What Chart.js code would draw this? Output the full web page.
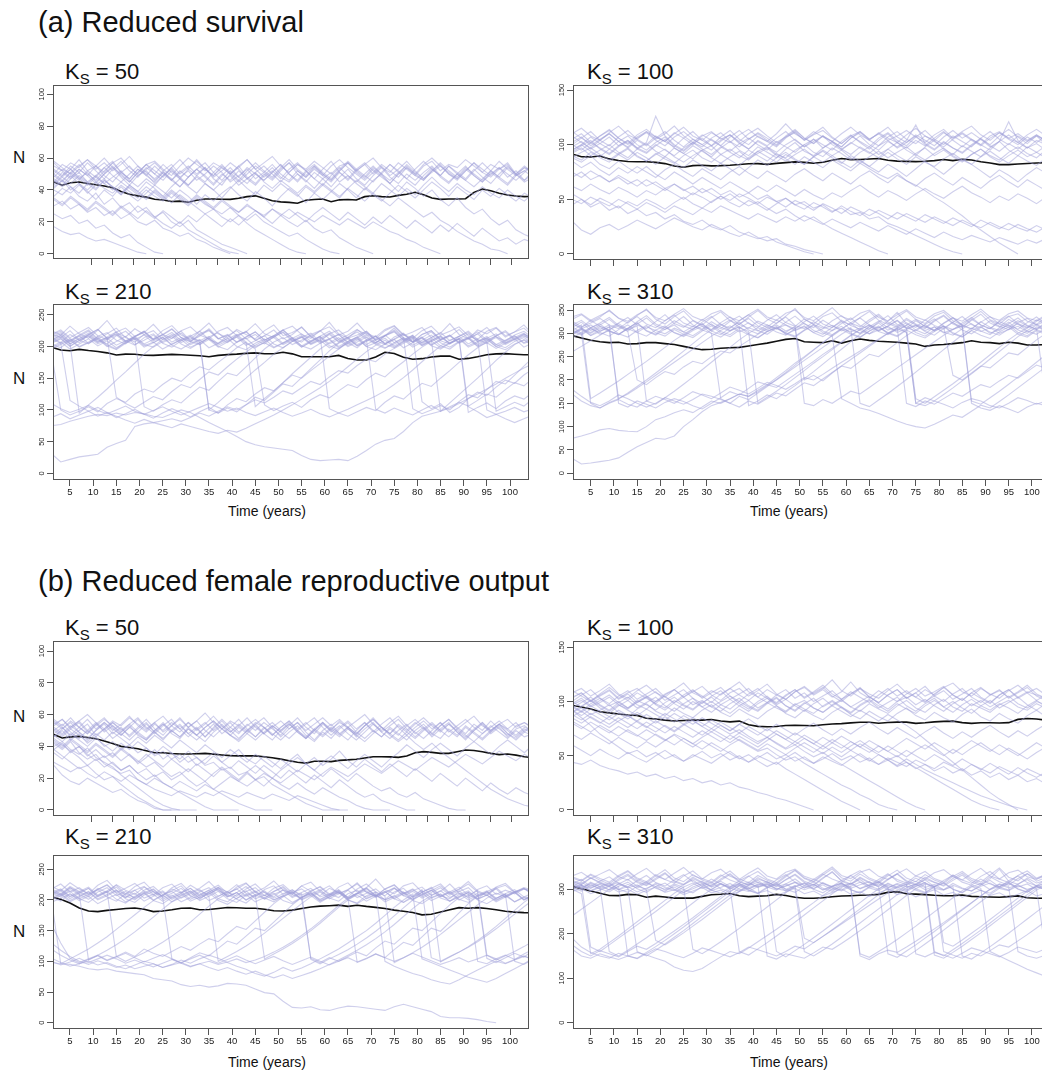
<!DOCTYPE html>
<html>
<head>
<meta charset="utf-8">
<script src="https://cdn.jsdelivr.net/npm/chart.js@4.4.0/dist/chart.umd.min.js"></script>
<style>
  body { margin: 0; width: 1042px; height: 1071px; overflow: hidden; background: #fff;
         position: relative; font-family: "Liberation Sans", Arial, sans-serif; color: #111; }
  canvas { position: absolute; }
  .lbl { position: absolute; white-space: nowrap; line-height: 1; }
  .sec { font-size: 29px; }
  .ks { font-size: 22px; }
  .ks sub { font-size: 15px; vertical-align: -5px; line-height: 0; }
  .n { font-size: 17px; }
  .tx { font-size: 14px; transform: translateX(-50%); }
</style>
</head>
<body>

<div class="lbl sec" style="left:38px;top:8px">(a) Reduced survival</div>
<div class="lbl sec" style="left:38px;top:567px">(b) Reduced female reproductive output</div>

<div class="lbl ks" style="left:65px;top:61px">K<sub>S</sub> = 50</div>
<div class="lbl ks" style="left:587px;top:61px">K<sub>S</sub> = 100</div>
<div class="lbl ks" style="left:65px;top:281px">K<sub>S</sub> = 210</div>
<div class="lbl ks" style="left:587px;top:281px">K<sub>S</sub> = 310</div>
<div class="lbl ks" style="left:65px;top:617px">K<sub>S</sub> = 50</div>
<div class="lbl ks" style="left:587px;top:617px">K<sub>S</sub> = 100</div>
<div class="lbl ks" style="left:65px;top:826px">K<sub>S</sub> = 210</div>
<div class="lbl ks" style="left:587px;top:826px">K<sub>S</sub> = 310</div>

<div class="lbl n" style="left:13px;top:149px">N</div>
<div class="lbl n" style="left:13px;top:370px">N</div>
<div class="lbl n" style="left:13px;top:708px">N</div>
<div class="lbl n" style="left:13px;top:923px">N</div>

<div class="lbl tx" style="left:267px;top:504px">Time (years)</div>
<div class="lbl tx" style="left:789px;top:504px">Time (years)</div>
<div class="lbl tx" style="left:267px;top:1055px">Time (years)</div>
<div class="lbl tx" style="left:789px;top:1055px">Time (years)</div>

<script>
// simulation years (every second year); the K=50 runs go on a little longer
const yearsLong = [1,3,5,7,9,11,13,15,17,19,21,23,25,27,29,31,33,35,37,39,41,43,45,47,49,51,53,55,57,59,
  61,63,65,67,69,71,73,75,77,79,81,83,85,87,89,91,93,95,97,99,101,103,105,107,109,111,113,115];
const years = [1,3,5,7,9,11,13,15,17,19,21,23,25,27,29,31,33,35,37,39,41,43,45,47,49,51,53,55,57,59,
  61,63,65,67,69,71,73,75,77,79,81,83,85,87,89,91,93,95,97,99,101,103,105];

const ticksLong = [10,15,20,25,30,35,40,45,50,55,60,65,70,75,80,85,90,95,100,105,110];
const ticksShort = [5,10,15,20,25,30,35,40,45,50,55,60,65,70,75,80,85,90,95,100];
const yTicks50 = [0,20,40,60,80,100];
const yTicks100 = [0,50,100,150];
const yTicks210 = [0,50,100,150,200,250];
const yTicks310a = [0,50,100,150,200,250,300,350];
const yTicks310b = [0,100,200,300];

// ---- (a) reduced survival ----
const survival50Mean = [45,43,44.5,45,44,43.3,42.5,41.4,39,37.3,36.3,35.5,34.2,33.7,32.8,33,32.3,33.5,34.3,34.3,
  34.2,34.1,34.8,35.8,36.3,34.8,33.2,32.5,32.2,31.7,33.5,34,34.3,32.6,33.8,34,33.7,35.8,36.4,35.8,
  35.6,36.6,37.3,38.5,37,35,34.1,34.3,34.3,34.5,38.5,40.6,39.5,37.9,36.8,36.2,35.8,36];
const survival50Runs = [
  [55,52,57,54,59,55,51,57,60,54,50,56,58,53,49,55,60,56,52,57,54,50,55,59,53,57,61,55,51,56,53,58,54,50,55,57,52,56,60,54,51,57,53,49,55,58,52,56,54,59,55,51,56,53,57,50,54,52],
  [48,53,50,46,52,55,49,45,51,47,53,50,44,49,54,48,52,46,50,55,51,45,49,53,47,51,56,50,46,52,48,54,49,45,51,47,53,57,52,48,44,50,54,49,46,52,56,50,47,53,49,45,50,54,48,52,46,50],
  [44,49,53,47,51,45,50,54,48,43,49,52,46,51,47,42,48,53,49,44,50,46,52,47,43,49,54,48,45,50,46,41,47,51,45,49,44,40,46,50,44,39,45,41,36,40,34,30,35,29,25,28,22,18,21,15,12,10],
  [40,37,42,36,33,38,31,35,29,32,26,29,23,26,20,17,21,15,12,9,6,4,2,0],
  [25,22,24,19,21,16,18,13,10,12,7,4,1,0],
  [17,14,12,13,10,8,9,7,5,3,1,0],
  [42,46,40,44,38,43,47,41,37,42,38,34,39,35,40,36,32,37,33,29,34,30,26,31,27,23,28,24,20,17,21,16,13,15,10,7,4,2,0],
  [36,41,38,43,39,34,40,36,42,37,33,38,43,39,35,40,36,31,37,33,38,42,37,33,39,35,30,36,41,37,32,38,34,39,44,40,35,41,37,33,38,43,39,35,40,45,41,36,42,38,34,40,36,41,37,33,38,35],
  [50,46,51,47,43,48,44,40,45,41,37,42,38,34,39,35,31,36,32,28,25,29,24,21,25,20,17,14,11,13,9,6,3,1,0],
  [58,54,50,55,59,53,57,52,56,61,55,51,47,52,56,50,54,58,53,49,54,50,45,50,55,51,47,53,57,52,48,53,49,55,59,54,50,46,51,56,52,48,54,50,56,60,55,51,47,52,57,53,49,54,50,46,51,55],
  [46,42,47,51,45,49,44,48,52,46,42,47,43,49,53,47,43,48,44,40,45,49,43,47,51,45,41,46,42,38,43,39,44,40,36,41,37,33,38,34,30,35,31,27,23,26,21,18,14,11,8,6,3,2,0],
  [34,30,35,31,27,32,28,24,29,25,30,26,22,27,23,19,24,20,25,21,17,22,18,23,27,23,19,24,28,24,20,25,29,25,21,26,22,18,23,19,24,20,16,21,17,13,18,14,19,15,11,16,12,8,10,6,9,7],
  [30,33,28,31,26,29,24,27,22,25,20,18,21,16,14,11,13,9,7,4,2,0],
  [50,56,53,59,52,48,54,58,51,55,49,53,57,52,46,51,55,50,54,48,52,57,53,47,51,55,50,45,51,56,52,47,53,58,51,46,52,56,50,55,49,53,58,52,47,51,55,50,46,52,57,51,48,53,56,49,52,55],
  [45,51,47,53,49,44,50,55,49,45,51,56,50,46,52,48,43,49,54,47,43,50,55,48,44,50,46,52,57,50,45,51,47,42,48,53,47,43,49,54,48,44,50,46,51,55,49,45,50,46,42,47,52,48,44,50,45,48],
  [47,43,49,44,40,45,41,38,43,39,35,40,36,33,38,34,30,35,31,28,33,29,26,30,27,24,28,25,22,26,23,20,24,21,18,22,19,16,20,17,14,12,9,7,4,2,0],
  [41,46,42,38,44,40,46,42,37,43,39,45,41,36,42,47,42,38,44,40,35,41,46,41,37,43,39,44,40,36,42,38,43,39,35,41,46,42,38,44,40,36,41,37,43,48,43,39,44,40,37,42,38,35,40,36,33,38],
  [35,31,36,32,28,33,29,25,30,26,22,27,23,19,16,20,15,12,9,6,3,1,0],
  [52,48,44,49,45,41,46,42,38,43,39,35,40,36,32,37,33,29,25,28,23,20,24,19,15,12,9,6,3,1,0],
  [53,49,55,51,57,52,47,53,58,52,48,54,50,56,51,47,53,59,53,49,55,51,46,52,57,52,48,54,59,53,49,55,50,46,52,57,52,48,54,50,56,52,47,53,58,53,49,55,50,46,52,57,52,48,54,50,55,51],
  [57,52,48,53,49,55,60,54,50,45,51,56,52,48,54,59,53,49,45,51,56,50,54,59,53,48,52,47,53,57,52,56,51,47,53,58,53,49,45,51,56,51,55,50,46,52,57,52,48,54,50,46,52,58,53,49,54,51],
  [43,48,53,48,44,49,54,49,45,50,55,49,45,51,46,42,48,53,48,43,49,54,48,44,50,46,51,56,50,46,52,47,43,49,54,49,45,50,55,50,46,51,47,43,49,54,48,44,50,55,49,45,51,47,43,49,52,48],
  [49,45,51,56,50,46,52,57,51,47,53,49,55,50,46,52,48,53,57,51,46,52,48,54,50,46,51,56,50,45,51,55,50,46,52,57,51,47,53,49,44,50,56,51,47,53,49,55,51,47,53,48,44,50,55,50,46,52]
];

const survival100Mean = [91.5,89,88.8,89.6,87,85.5,84.6,84.4,84.4,83.8,82.7,80.5,79.3,80.8,81.2,80.6,80.8,81.2,81.8,82.6,
  82.7,82,82.9,83.6,84.3,83.8,83,84,85.8,87.3,86.3,86.4,86.9,87.4,85.8,85,84.7,84.5,84.8,85.4,
  86.5,85.4,86.6,86,84.4,83.2,81.8,81.8,82.3,82.8,83.2,83.5,83.5];
const survival100Runs = [
  [105,110,102,108,113,106,101,109,114,107,103,111,106,100,108,112,105,109,103,110,115,108,102,107,111,104,109,113,106,101,108,112,105,110,104,108,113,107,102,109,114,106,111,105,100,108,112,106,110,104,109,103,107],
  [98,103,96,101,107,99,104,97,102,126,108,100,95,102,98,105,99,94,101,106,100,95,103,98,93,100,105,97,102,96,101,108,100,95,103,98,104,118,101,96,103,97,92,99,105,98,103,121,104,97,101,95,100],
  [92,97,90,95,100,93,88,96,101,94,89,97,92,87,95,99,91,96,90,86,94,98,91,88,95,100,93,89,97,92,86,93,98,91,96,90,85,92,97,90,95,89,84,91,96,90,86,93,98,92,88,95,90],
  [88,84,90,82,78,85,79,74,80,73,68,75,70,64,70,65,60,66,61,56,62,57,63,58,53,59,54,50,56,52,58,63,57,52,58,54,49,55,60,55,51,57,62,56,52,47,53,49,55,51,46,52,48],
  [30,22,18,24,27,22,26,31,27,23,28,33,29,25,22,27,23,19,16,20,15,12,14,9,7,4,2,0],
  [45,50,43,47,40,44,37,41,35,38,32,36,30,27,31,25,22,26,20,17,14,16,11,8,5,2,0],
  [95,100,94,89,96,91,86,93,88,82,89,84,79,86,81,76,83,78,72,79,86,81,88,93,87,82,89,95,90,84,79,86,80,75,82,77,71,78,85,79,73,80,87,82,76,70,77,72,66,73,79,74,70],
  [100,95,102,97,92,99,104,97,93,100,95,90,97,102,96,91,98,93,88,95,90,85,92,87,82,89,84,79,86,81,76,83,78,73,69,74,67,63,58,52,47,41,35,28,22,16,10,5,0],
  [55,50,45,51,47,42,48,44,50,46,41,47,52,46,42,48,53,47,43,49,45,40,46,51,45,41,47,43,38,44,39,35,41,37,32,38,34,30,36,32,28,33,29,25,31,27,23,28,24,21,26,22,20],
  [90,86,93,88,84,91,96,89,85,92,87,83,90,95,88,84,91,86,81,88,94,89,84,91,86,82,89,94,88,83,90,85,80,87,93,87,82,89,84,80,87,92,86,82,89,94,88,83,90,85,81,88,84],
  [70,75,68,72,66,70,64,68,62,66,60,64,58,62,56,60,54,58,52,56,50,54,48,51,45,48,42,45,39,42,36,38,32,34,28,25,21,17,13,9,5,2,0],
  [110,115,108,104,111,117,109,105,112,107,103,110,116,108,104,111,106,102,109,114,107,103,110,119,110,105,112,107,103,110,116,109,104,111,106,102,109,115,108,104,111,106,112,117,109,104,111,106,102,109,114,108,112],
  [62,58,64,59,55,61,57,52,58,54,60,55,50,56,52,47,53,49,55,51,46,52,48,43,49,45,40,46,42,37,43,39,35,40,36,32,37,33,29,34,30,26,31,27,24,29,25,22,27,23,20,25,22],
  [102,107,99,105,110,103,98,106,111,104,99,107,112,105,100,106,111,103,98,105,110,104,99,107,113,106,101,108,103,98,106,111,104,99,107,112,105,101,108,103,98,105,110,104,99,106,111,105,100,107,102,108,104],
  [95,100,107,101,96,103,108,100,95,102,107,99,94,101,106,99,104,109,101,96,103,98,93,100,105,98,103,108,100,95,102,97,92,99,104,97,102,108,100,95,102,97,93,100,106,99,94,101,96,103,108,100,97],
  [85,79,84,77,72,79,74,80,75,70,77,82,76,71,78,73,68,75,80,74,69,76,71,66,73,78,72,67,74,69,64,71,76,70,65,72,67,62,69,74,68,63,70,65,60,67,72,66,61,68,63,58,64],
  [75,70,76,71,66,72,67,62,68,63,58,64,59,54,60,55,50,55,49,44,48,42,37,41,35,30,34,28,23,19,15,11,7,3,0],
  [50,46,52,48,44,50,46,41,47,43,38,44,40,36,42,38,44,40,36,32,37,33,29,34,30,35,31,27,32,28,24,29,25,21,26,22,18,23,19,15,20,16,13,17,14,11,15,12,9,13,10,14,12],
  [88,93,97,91,86,92,97,90,85,91,96,89,84,90,95,88,83,89,94,87,92,97,90,85,91,96,89,84,90,95,88,83,89,94,88,93,98,91,86,92,97,90,85,91,96,89,84,90,95,89,93,88,91],
  [100,106,112,104,99,107,113,105,100,108,103,98,106,112,104,99,107,113,105,100,108,103,98,106,112,104,110,116,107,101,108,103,98,106,111,104,99,107,113,105,100,108,103,98,106,112,105,100,108,103,109,104,106],
  [108,102,97,104,110,103,97,104,99,106,112,104,98,105,100,95,103,109,102,96,104,99,106,112,104,98,105,100,95,103,109,102,96,104,110,102,97,104,99,106,112,104,98,105,100,95,103,109,102,97,104,100,102],
  [93,99,104,96,91,98,103,96,92,99,105,97,92,99,94,89,97,103,95,90,98,93,88,96,102,94,90,97,103,96,91,98,93,88,96,102,95,90,98,104,96,91,99,94,89,97,103,95,90,98,93,99,96],
  [112,106,101,108,114,106,100,107,112,105,110,117,108,102,109,104,99,107,113,105,111,106,100,108,114,106,101,108,103,98,106,112,105,110,116,107,102,109,104,99,107,113,106,111,105,100,108,114,107,101,108,104,107]
];

const survival210Mean = [199,194.5,193.4,195.5,193.6,192.2,190,186.7,188,187.8,186.3,186,186.8,187.5,187,186.2,185.5,183.9,186,187.2,
  188,189.2,190,188.5,188.5,191,188.4,183.9,183.9,183.9,183.9,186,181,178.7,178.7,183.5,191,189,183,179.8,
  180.8,183.5,184.8,185,180,181.2,183.7,187,188.3,188.7,187.8,187,187];
const survival210Runs = [
  [215,222,208,218,226,212,220,229,214,207,219,225,211,217,224,209,216,228,213,206,218,223,210,217,226,212,219,231,215,208,220,226,213,218,224,210,217,229,214,207,219,225,211,216,227,212,220,230,215,209,218,224,213],
  [205,212,200,210,217,206,213,202,209,216,204,211,219,207,214,203,210,100,112,125,138,150,163,175,188,198,208,215,204,211,219,207,214,203,210,217,205,212,220,208,215,203,211,218,206,213,201,209,216,205,212,220,208],
  [210,218,205,95,108,120,133,147,160,174,188,200,211,219,206,214,209,216,204,212,219,207,105,118,130,143,157,170,183,196,206,214,202,210,218,206,213,201,209,217,205,212,98,111,124,137,150,164,178,191,203,211,205],
  [31,18,22,26,28,30,41,47,52,74,78,80,83,86,82,88,95,90,98,105,100,108,116,111,120,130,125,135,145,140,152,162,158,170,180,176,188,197,205,212,201,209,216,205,212,220,208,214,203,210,217,206,213],
  [75,77,82,86,90,93,91,95,92,96,94,90,88,94,100,96,88,80,73,66,58,50,45,42,40,38,36,28,22,20,21,22,20,27,36,46,52,55,66,80,90,94,98,103,110,118,125,133,141,150,158,166,173],
  [190,100,92,98,105,97,110,118,112,125,133,128,140,150,145,158,168,163,175,186,198,207,196,108,99,106,112,104,116,124,119,130,140,135,148,158,152,165,176,188,199,208,215,204,212,96,104,111,102,114,122,117,128],
  [220,214,225,210,218,227,213,220,208,216,224,211,219,228,214,207,218,225,212,219,206,215,223,210,217,226,213,220,208,216,224,211,218,227,214,206,217,223,210,218,113,102,110,96,104,118,128,123,136,147,142,155,165],
  [88,94,86,92,98,90,96,88,94,101,93,87,95,102,96,89,97,104,95,108,118,113,125,135,130,143,155,150,162,173,185,196,206,198,211,101,95,103,97,92,100,107,98,105,112,106,115,125,120,132,143,138,150],
  [200,207,196,204,212,201,209,198,206,214,203,199,208,216,204,197,206,213,202,209,217,205,198,207,214,203,210,199,208,216,204,211,200,207,215,203,197,206,213,202,210,218,206,199,208,215,203,211,200,208,216,205,210],
  [212,205,115,106,98,104,96,90,84,79,85,80,76,72,78,74,70,66,63,68,65,71,78,85,92,100,108,117,126,135,145,156,168,180,192,202,210,199,207,214,203,210,217,205,212,105,97,88,93,86,80,86,92],
  [225,218,232,220,213,226,241,222,215,228,219,212,225,233,218,211,224,237,220,214,227,219,212,225,234,217,222,230,216,224,238,220,213,226,219,212,225,232,217,223,230,214,221,236,219,212,226,220,229,215,223,234,218],
  [208,215,204,212,219,207,214,120,110,103,112,121,116,129,140,135,148,160,155,168,180,191,202,210,217,205,213,201,209,216,102,95,90,97,104,99,112,122,117,130,142,137,150,162,175,187,198,207,214,203,211,218,206],
  [210,217,204,213,221,208,215,223,209,202,214,220,206,213,221,208,203,215,222,208,215,224,210,204,216,222,208,214,221,207,212,219,205,213,222,209,203,215,221,207,214,223,209,204,216,222,208,213,220,206,214,221,209],
  [198,205,212,200,207,215,203,196,208,214,201,207,196,204,211,199,206,214,200,195,207,213,200,206,198,205,212,199,207,215,201,196,208,214,200,206,198,204,211,199,207,214,201,196,207,213,200,206,197,205,212,199,206],
  [206,213,201,209,216,204,211,218,206,213,105,98,108,116,111,124,136,131,145,158,154,168,182,196,207,214,203,210,217,205,212,200,208,215,203,211,218,206,214,102,94,100,107,100,113,124,119,132,145,141,155,169,183],
  [214,206,219,210,204,216,222,210,204,216,223,209,215,203,211,218,206,100,95,103,97,108,120,115,128,141,137,151,165,179,193,205,212,201,209,216,204,211,219,207,214,202,210,217,205,212,220,207,98,105,112,106,118],
  [110,102,96,101,107,99,94,100,106,98,93,99,105,98,92,98,104,110,104,98,103,96,91,97,103,96,90,95,101,94,89,95,101,108,115,122,130,140,151,163,176,189,201,210,216,204,212,100,93,98,104,97,102],
  [219,226,214,222,230,217,211,223,229,216,222,235,219,213,225,231,218,212,224,230,217,223,236,220,214,226,232,219,213,225,231,218,224,237,221,215,227,233,219,213,225,232,218,224,231,217,211,224,230,217,223,229,216],
  [213,220,207,216,224,210,204,217,224,211,218,206,214,222,209,216,224,211,205,217,225,212,219,207,215,223,210,217,205,213,221,208,215,223,211,205,217,224,210,217,206,214,222,209,216,224,211,205,217,223,210,216,212],
  [204,198,210,217,205,212,200,208,216,203,210,218,205,199,209,216,203,211,199,207,215,202,209,217,204,198,208,215,203,210,198,206,214,201,208,216,204,198,208,215,202,209,198,206,213,201,208,216,203,198,208,214,205],
  [218,224,212,206,219,227,213,220,208,215,224,211,218,227,214,208,220,226,212,218,207,215,223,210,217,226,213,207,219,225,212,219,207,215,224,210,217,226,213,207,219,225,211,218,206,214,223,210,217,225,212,219,214],
  [196,203,210,199,206,213,201,195,205,212,199,206,214,202,196,205,211,198,205,213,200,195,205,212,199,206,214,201,196,205,211,198,205,212,200,195,204,211,198,206,213,201,196,205,212,199,206,213,200,195,204,210,201]
];

const survival310Mean = [295,290,285,282,280,281,277,278,280,280,278,276,272,268,265,266,268,269,270,273,
  276,279,283,287,289,282,281,280,284,279,284,288,285,283,282,281,279,277,272,275,
  276,278,280,284,281,280,278,281,279,275,275,276,275];
const survival310Runs = [
  [320,312,328,315,307,322,334,318,310,325,340,321,313,327,316,308,323,335,319,311,326,318,309,324,337,320,312,328,316,308,323,333,318,311,326,345,320,313,329,317,309,324,336,319,312,327,315,308,323,332,318,326,314],
  [305,318,160,172,185,198,212,226,240,255,270,285,298,310,320,305,317,329,312,304,150,163,176,190,205,220,236,250,265,280,295,308,318,306,315,327,311,160,150,164,178,192,207,222,238,254,270,286,300,312,320,307,316],
  [32,20,22,25,28,33,45,57,66,75,73,80,100,115,132,145,152,160,170,165,178,190,184,198,212,226,240,255,268,282,296,308,318,305,316,328,312,305,319,331,315,308,322,334,318,310,325,317,309,323,335,319,312],
  [75,80,86,93,96,92,90,89,100,115,121,130,136,130,142,155,150,160,170,165,175,188,200,214,228,242,256,270,284,298,310,300,314,326,312,305,318,330,314,306,321,333,317,309,324,336,320,313,327,316,308,321,330],
  [300,312,296,308,318,150,142,155,148,140,152,160,154,145,138,150,162,175,168,182,196,190,205,220,236,250,265,280,295,160,150,140,135,128,120,112,105,100,97,105,115,125,120,133,146,140,154,168,183,198,213,228,243],
  [298,310,302,315,306,297,311,322,305,296,309,318,303,295,308,320,304,297,311,323,306,298,312,301,294,307,319,305,297,310,322,306,299,313,302,295,308,317,304,296,311,324,307,299,313,303,296,309,321,305,298,312,304],
  [315,300,150,140,152,160,172,186,200,215,230,246,262,278,294,308,320,306,314,145,155,168,160,174,188,203,218,234,250,266,282,298,310,322,307,315,302,150,162,155,169,183,198,213,229,245,261,277,293,306,318,304,314],
  [170,155,145,140,150,158,148,142,155,165,158,150,162,175,168,160,172,185,178,170,182,195,188,180,192,205,200,212,225,238,250,262,275,288,300,312,150,143,155,148,160,172,165,178,190,184,198,210,204,218,232,225,240],
  [330,340,325,335,350,332,322,338,352,330,320,336,348,328,318,334,346,327,319,335,349,331,321,337,353,330,320,336,344,326,318,334,347,328,319,335,348,330,321,337,345,327,318,333,347,329,320,336,342,326,319,334,340],
  [260,272,284,296,308,317,304,200,190,205,218,212,228,240,235,250,262,258,272,285,298,310,318,305,313,200,210,198,215,230,225,240,255,250,265,280,295,308,318,305,315,210,200,215,230,226,242,258,254,270,286,300,312],
  [290,302,312,298,306,160,170,183,196,210,224,238,252,266,280,294,306,316,303,312,305,318,310,302,315,150,145,158,150,163,176,170,184,198,212,226,240,254,268,282,296,308,316,150,140,135,145,138,130,142,150,145,140],
  [312,324,306,318,330,314,305,320,333,316,308,322,336,318,309,325,313,305,320,332,316,307,322,335,317,310,325,314,306,321,333,317,309,324,338,319,311,327,315,307,322,334,318,310,325,313,306,321,333,317,309,324,315],
  [305,296,310,302,294,308,318,302,294,307,316,301,293,306,315,300,292,305,314,299,291,304,313,298,307,316,301,293,306,315,300,292,305,314,299,308,317,302,294,307,316,301,293,306,315,300,309,318,302,295,308,300,306],
  [322,310,318,305,313,321,308,316,155,148,162,176,191,206,222,238,254,270,286,300,312,304,311,318,306,314,302,310,317,305,312,150,143,157,171,186,201,217,233,249,265,281,297,311,304,312,300,308,315,303,311,160,152],
  [296,308,300,312,304,298,310,302,314,306,299,311,303,315,307,300,160,150,165,158,172,186,201,216,232,248,264,280,296,310,303,311,299,307,315,302,310,318,306,314,301,309,317,155,148,162,176,191,206,222,238,254,270],
  [180,165,152,145,155,168,160,150,142,150,162,155,148,158,170,165,158,150,142,155,148,160,172,166,180,194,188,202,216,230,244,258,272,286,300,310,302,150,145,155,148,140,152,160,155,145,140,150,162,156,148,155,145],
  [335,342,328,338,348,333,326,340,350,334,327,341,353,336,328,342,349,334,327,340,352,335,328,343,350,334,327,341,355,336,329,343,350,334,327,340,351,335,328,342,349,333,326,340,352,335,328,342,348,333,327,340,345],
  [318,328,312,322,334,317,309,325,338,320,312,327,316,308,324,336,319,311,327,340,322,313,329,318,310,325,337,320,312,328,317,309,325,338,321,313,329,318,310,326,337,320,312,328,341,322,314,330,319,311,326,336,320],
  [300,309,295,304,314,299,292,306,317,301,294,308,298,291,305,316,300,293,307,297,290,304,315,299,292,306,317,301,294,308,298,291,305,316,300,293,307,297,290,304,315,299,292,306,296,289,303,314,298,292,306,297,302],
  [326,314,322,332,318,310,324,336,320,312,327,339,322,314,330,318,310,326,337,321,313,328,340,323,315,331,319,311,327,338,322,314,329,341,324,316,332,320,312,328,339,322,314,330,318,310,326,337,321,313,329,319,324],
  [308,298,312,320,305,297,311,323,306,298,313,302,295,309,321,305,297,312,324,307,299,314,303,296,310,322,306,298,313,325,308,300,315,304,297,311,323,307,299,314,303,296,310,321,305,297,312,324,307,300,314,305,309]
];

// ---- (b) reduced female reproductive output ----
const female50Mean = [47.5,45.3,46,46.3,45.6,44.8,43.4,41.8,40,39.3,38.5,37.2,36,36,35.5,35.2,35.2,35.4,35.6,35.1,
  34.6,34.2,34,34,34,33.5,32.8,32,31,30,29.5,30.6,30.6,30.4,31.2,31.5,31.9,32.7,33.5,33.5,
  33.4,33.1,34,36,36.7,36.2,35.6,35.6,36.6,37.7,37.4,36.6,35.6,34.8,35.2,34.5,33.5,33];
const female50Runs = [
  [54,57,52,56,60,55,51,56,53,58,54,50,55,59,53,57,52,56,61,55,51,56,53,49,54,58,52,56,51,55,50,54,58,53,57,52,56,60,54,50,55,59,53,57,52,48,53,57,51,55,59,53,50,54,57,52,55,51],
  [48,52,46,50,54,47,51,45,49,53,47,44,50,54,48,45,51,47,43,49,53,47,44,50,46,52,48,44,49,53,47,43,49,45,51,55,49,45,50,46,52,48,44,50,54,48,45,51,47,53,49,45,50,54,48,44,49,47],
  [40,43,38,35,39,33,30,27,22,18,14,10,6,3,1,0,0,0],
  [28,22,18,16,20,17,14,11,13,9,6,4,1,0,0],
  [46,50,44,48,42,46,40,43,38,41,36,39,34,37,32,35,30,33,28,30,25,27,22,24,19,21,16,13,10,7,4,2,0,0,0],
  [38,42,36,40,34,38,33,36,31,35,29,33,38,32,36,30,34,28,32,36,30,34,38,32,29,34,30,26,31,35,29,33,28,32,37,31,27,32,28,24,29,25,21,26,22,18,23,19,15,20,16,12,17,13,10,14,11,9],
  [50,46,51,47,43,48,44,49,45,41,46,42,47,43,39,44,40,36,41,37,33,38,34,30,35,31,27,32,28,24,29,25,21,26,22,18,23,19,15,12,14,10,8,11,7,5,3,1,0,0],
  [52,48,53,49,45,50,55,51,47,52,48,44,49,54,50,46,51,47,52,56,51,47,52,48,44,49,53,49,45,50,46,51,55,50,46,51,47,43,48,52,48,44,49,45,50,54,50,46,51,47,43,48,53,49,45,50,46,48],
  [42,38,43,36,32,35,29,26,23,25,19,16,13,11,9,12,10,8,11,9,12,10,8,11,9,7,10,8,6,9,7,5,3,1,0,0],
  [36,32,37,33,28,32,27,30,25,28,23,26,21,24,19,22,26,22,18,23,27,23,19,24,28,24,20,25,29,33,29,25,30,34,30,26,31,35,31,27,32,36,41,37,33,38,42,38,34,39,43,39,35,40,44,40,36,41],
  [44,40,45,41,37,42,38,34,39,35,31,27,30,25,21,24,19,15,18,13,10,7,4,2,0,0,0],
  [56,52,47,52,57,51,55,50,54,59,53,49,54,50,55,51,46,51,55,50,54,49,53,58,52,48,53,49,54,50,45,50,55,51,47,52,48,53,57,52,47,43,47,42,38,42,37,33,29,25,21,17,13,10,7,5,3,2],
  [47,43,48,44,40,45,41,37,42,38,43,39,35,40,36,32,37,33,29,34,30,26,31,27,23,28,24,20,25,21,17,22,18,14,19,15,11,8,10,6,4,2,0,0],
  [55,51,56,52,48,53,57,53,49,54,58,52,48,53,57,51,55,50,54,59,53,49,54,50,55,52,47,52,56,51,55,50,46,51,55,52,48,53,57,52,48,53,49,54,58,53,49,54,50,46,51,55,50,54,51,47,52,50],
  [50,54,49,45,50,55,49,53,48,44,49,54,49,45,50,46,52,56,50,46,51,47,43,48,53,48,44,50,55,49,45,51,47,52,48,44,50,55,50,46,51,47,53,49,45,50,55,50,46,52,48,44,49,54,50,46,51,48],
  [43,39,44,40,36,41,37,33,38,34,30,35,31,27,32,28,24,29,25,21,26,22,18,23,19,15,20,16,13,17,13,10,14,11,8,6,3,1,0,0,0],
  [38,34,30,26,28,23,19,21,16,12,8,5,2,0,0,0],
  [45,41,37,40,35,31,34,29,25,28,23,19,22,17,14,11,8,5,2,0,0,0,0],
  [30,27,24,27,23,20,24,21,18,22,19,16,20,17,14,18,15,12,16,13,17,21,18,15,19,23,20,17,21,25,22,19,23,27,24,21,25,29,26,23,27,31,28,25,29,33,30,27,31,35,32,29,33,37,34,31,35,32],
  [53,57,51,55,49,54,58,52,47,52,57,51,55,49,53,58,52,47,52,56,51,55,49,53,57,52,47,52,56,50,54,58,52,47,52,56,51,55,49,54,58,52,47,52,56,51,55,49,53,57,52,48,52,56,51,55,49,53],
  [46,51,55,49,44,50,54,48,52,46,51,55,49,44,50,54,48,52,46,51,56,50,45,50,54,48,52,46,51,55,49,44,50,54,48,52,46,51,55,49,45,50,54,48,52,46,51,55,49,44,50,54,48,52,46,51,53,49],
  [51,47,52,56,50,46,51,55,50,54,49,45,50,55,49,53,48,44,49,54,48,52,57,51,46,51,55,50,54,49,45,50,55,49,53,48,44,49,54,49,53,57,51,46,51,55,50,54,49,45,50,55,49,53,48,45,50,52],
  [57,53,58,52,48,54,50,55,51,47,52,57,51,47,53,49,55,51,46,52,57,52,48,54,50,55,51,47,53,58,52,48,54,50,56,51,47,53,58,52,48,54,50,55,51,47,53,57,52,48,54,50,56,51,47,53,55,52]
];

const female100Mean = [96.5,95,93,90.6,89.5,88.5,87.5,87.2,84.5,83.8,82.8,82,82.5,82.8,82.8,83.4,82,81.2,81.9,78.5,
  77.1,76.7,77,77.8,78.1,77.9,77.6,78.5,79.2,79.6,80.3,80.8,80.8,79.9,80.7,81,81,79.8,80.4,81.2,
  81.7,81.9,80.5,79.8,80.4,80.4,80.2,80.5,83.5,84.3,83.8,82.8,82.5];
const female100Runs = [
  [104,108,101,106,111,103,108,112,105,100,107,111,104,109,114,106,101,108,112,105,110,116,107,102,109,113,106,111,104,109,118,108,103,110,105,100,107,112,105,109,114,106,101,108,113,106,110,104,109,115,107,103,108],
  [97,101,95,99,104,97,93,100,105,98,94,101,96,92,99,104,97,93,100,95,91,98,103,96,92,99,94,90,97,102,95,91,98,93,89,96,101,94,90,97,102,95,91,98,94,90,97,101,95,92,98,94,96],
  [92,85,78,70,64,58,52,55,49,53,47,51,45,49,54,48,52,46,50,44,48,53,47,51,45,49,43,47,52,46,50,44,48,42,46,40,44,38,42,36,40,34,38,32,36,30,34,28,32,26,29,24,27],
  [44,42,46,41,38,36,33,35,31,33,29,31,27,29,25,27,23,25,21,19,16,14,11,9,6,3,0],
  [88,83,89,84,79,85,80,75,81,76,71,77,72,67,73,68,63,69,64,59,54,57,51,46,49,43,38,33,28,23,19,14,10,5,2,0],
  [100,95,101,96,91,97,92,87,93,88,83,89,84,79,85,80,75,70,74,68,63,67,61,56,60,54,49,53,47,42,37,32,27,22,17,12,7,3,0],
  [80,75,81,76,71,77,72,68,74,69,64,70,66,61,67,72,67,62,68,63,58,64,70,65,60,66,61,56,62,68,63,58,64,59,54,60,66,61,56,62,57,52,58,64,59,54,60,55,50,56,62,57,53],
  [90,94,88,92,97,90,86,93,98,91,87,94,89,85,92,97,90,86,93,88,84,91,96,89,85,92,87,83,90,95,88,84,91,86,82,89,94,87,83,90,85,81,88,93,86,82,89,84,80,87,92,86,89],
  [98,103,96,101,106,99,94,101,97,92,99,104,97,93,100,95,91,98,103,96,92,99,94,90,97,101,94,90,96,91,86,92,87,82,88,83,78,72,65,58,51,44,37,30,23,16,10,5,0],
  [108,112,105,110,116,107,103,110,115,108,104,111,117,108,104,110,106,112,118,109,104,111,106,102,109,114,107,112,120,110,105,112,107,103,110,116,108,104,111,106,113,117,109,105,112,107,103,110,115,108,112,106,110],
  [60,55,50,56,51,47,53,48,44,50,55,49,45,51,47,43,49,54,48,44,50,46,42,48,53,47,43,49,45,41,47,52,46,42,48,44,40,46,42,38,44,40,36,42,38,34,40,36,32,38,34,30,28],
  [95,90,96,91,86,92,87,82,88,83,89,84,79,85,80,75,81,76,71,77,72,67,73,68,63,69,64,59,65,60,55,61,56,51,46,50,44,39,34,29,24,19,14,9,5,2,0],
  [85,80,86,81,76,82,87,81,76,82,77,72,78,83,77,72,78,73,79,84,78,73,79,74,69,75,80,74,69,75,70,76,81,75,70,76,71,66,72,77,71,66,72,67,73,78,72,67,73,68,74,79,73],
  [103,108,100,105,110,102,107,99,104,109,101,106,111,103,98,105,110,102,107,112,104,99,106,111,103,108,100,105,110,102,107,113,104,99,106,111,103,108,100,105,110,102,107,112,104,99,106,111,103,108,101,106,104],
  [94,99,104,97,92,99,104,97,93,100,105,98,93,100,95,90,97,102,96,91,98,103,96,91,98,93,89,96,101,95,90,97,102,96,91,98,93,89,96,101,95,90,97,102,96,92,98,94,89,96,101,95,98],
  [82,77,72,78,73,68,74,69,64,70,65,60,66,61,56,62,57,52,47,51,45,40,44,38,33,28,23,18,13,8,4,0],
  [70,65,71,66,61,67,62,57,63,58,64,69,63,58,64,59,54,60,65,60,55,61,56,51,57,62,57,52,58,53,59,64,58,53,59,54,49,55,60,55,50,56,51,57,62,56,51,57,52,47,53,58,54],
  [86,91,85,80,86,81,76,82,77,72,78,73,79,74,69,75,70,65,71,66,61,67,62,57,63,58,53,59,54,49,55,50,45,51,46,41,47,42,37,33,29,25,21,17,13,10,7,4,2,0],
  [92,87,93,88,83,89,84,90,85,80,86,81,87,82,77,83,78,73,79,74,69,75,70,65,71,66,61,67,62,57,63,58,53,59,54,49,55,50,45,51,46,41,47,42,37,43,38,33,39,34,30,35,31],
  [100,106,111,103,98,105,110,102,107,112,104,99,106,111,103,108,113,105,100,107,112,104,99,106,111,103,108,113,105,100,107,112,104,99,106,111,103,108,114,105,100,107,112,104,99,106,111,103,108,113,105,101,106],
  [96,91,98,103,96,100,94,99,104,97,92,99,104,97,101,95,100,105,98,93,100,105,97,102,96,91,98,103,96,101,95,100,105,98,93,100,104,97,102,96,91,98,103,96,101,95,100,105,98,94,100,97,99],
  [110,105,100,107,113,106,101,108,103,98,106,111,104,110,105,99,107,112,106,101,108,103,98,105,111,104,109,115,107,102,109,104,99,106,112,105,110,104,99,107,113,106,101,108,103,98,106,111,104,109,106,103,107],
  [90,96,101,94,89,96,101,94,99,104,96,91,98,103,95,100,94,89,96,101,94,99,104,96,91,98,103,95,100,94,89,96,101,94,99,104,96,91,98,103,95,100,94,89,96,101,94,99,104,97,92,98,95]
];

const female210Mean = [205,201,195,187,182,181,183,184.5,186,187,184.8,181,182,184,186.5,187,184,184.5,186,187.8,
  187.3,186.4,186.4,185,182.5,182,183.5,186,188.5,190,190.7,191.6,189.5,191.5,189.5,188,186,183.5,181.5,179.5,
  175.8,176.8,180.5,184,187.5,186.5,187.5,186,184,181.5,180.2,179.3,179];
const female210Runs = [
  [212,218,206,214,221,208,215,224,210,204,216,222,209,215,223,207,214,220,206,213,225,211,205,217,223,209,216,208,214,222,210,204,216,228,212,206,218,224,210,215,221,208,214,226,211,205,217,223,209,216,210,218,212],
  [200,96,104,112,120,130,140,152,164,176,188,199,208,214,203,210,217,205,100,108,116,125,135,146,158,170,182,194,205,213,202,210,216,204,211,218,206,98,106,114,123,133,144,156,168,180,192,203,211,205,213,200,208],
  [215,208,220,210,102,110,118,127,137,148,160,172,185,197,207,214,203,211,218,205,212,200,209,104,112,120,129,139,150,162,175,188,200,210,215,204,212,219,207,214,203,210,99,107,115,124,134,145,157,170,183,196,207],
  [160,130,105,98,104,110,102,108,115,108,120,113,108,116,124,118,128,137,132,145,157,152,166,180,194,205,213,202,105,98,106,100,108,115,109,122,133,128,141,154,150,164,178,192,204,212,100,96,104,110,103,112,120],
  [205,198,210,202,196,207,214,201,195,206,213,200,208,197,204,212,199,206,214,202,196,208,215,203,197,206,212,200,207,196,205,213,201,208,198,206,214,202,196,207,215,203,209,198,206,213,201,208,197,205,212,200,207],
  [98,96,95,92,88,86,88,84,82,80,78,72,70,68,62,59,61,58,60,64,63,61,55,49,47,35,25,24,26,21,20,24,27,26,24,22,20,26,30,26,22,18,10,8,8,7,5,2,0],
  [105,98,92,96,100,94,98,92,88,94,100,96,90,95,102,97,104,110,105,98,92,87,80,76,82,90,84,89,96,104,112,120,130,140,150,162,175,188,200,210,104,98,92,86,80,74,70,66,72,80,88,96,105],
  [210,217,205,212,219,206,214,108,100,107,114,122,131,141,152,164,177,190,202,211,218,206,213,201,209,216,204,211,103,96,104,111,119,128,138,149,161,174,187,200,209,216,205,212,200,208,215,110,102,109,116,124,133],
  [222,215,228,218,210,224,232,216,209,222,229,214,207,220,227,212,219,230,215,208,221,228,213,220,231,216,209,223,229,214,207,221,228,213,220,234,217,210,223,228,213,219,226,211,218,230,215,208,221,227,213,220,216],
  [100,94,99,105,98,104,110,104,97,102,96,91,97,103,97,91,96,90,85,90,84,79,84,78,73,78,72,77,82,88,95,102,110,118,127,137,148,160,173,186,198,207,215,204,211,200,208,215,203,210,100,95,103],
  [218,210,222,214,207,219,212,225,216,209,221,213,206,218,211,224,215,208,220,213,206,218,226,212,205,217,210,223,214,207,219,212,205,218,226,213,207,219,212,205,217,106,100,108,115,123,132,142,153,165,177,189,200],
  [208,215,202,211,219,205,213,221,207,200,212,218,204,211,219,206,201,213,220,206,212,222,208,202,214,220,206,212,219,205,210,217,203,211,220,207,201,213,219,205,212,221,207,202,214,220,206,211,218,204,212,219,207],
  [200,207,214,202,209,217,205,198,210,216,203,209,198,206,213,201,208,216,202,197,209,215,202,208,200,207,214,201,209,217,203,198,210,216,202,208,200,206,213,201,209,216,203,198,209,215,202,208,199,207,214,201,208],
  [212,205,217,209,201,213,220,207,214,202,210,217,205,104,97,106,114,109,121,133,128,141,154,150,164,178,192,204,212,201,209,216,204,211,219,207,214,202,210,217,205,212,220,208,215,203,211,105,98,106,113,107,118],
  [204,211,199,207,214,202,209,216,204,211,198,206,213,201,208,215,203,210,217,205,212,200,208,215,203,210,217,205,212,200,208,215,203,98,104,112,106,119,131,126,140,154,149,164,179,194,206,213,202,210,217,205,212],
  [120,110,102,96,103,109,101,107,113,106,99,105,111,104,98,104,110,103,97,103,109,102,96,102,108,101,95,101,107,100,94,100,106,99,105,112,106,100,106,113,107,101,95,100,106,99,104,110,104,97,103,109,102],
  [130,118,108,100,95,101,96,90,94,88,92,96,90,94,98,92,96,100,95,99,104,98,102,108,115,123,132,142,153,165,178,191,203,211,205,212,100,92,86,80,76,70,66,63,70,78,86,93,100,96,102,108,104],
  [214,208,220,212,205,217,224,211,204,216,222,209,215,203,211,219,206,213,221,208,202,214,220,207,214,222,209,203,215,221,208,214,202,210,218,206,212,220,207,201,213,219,206,213,221,208,202,214,220,207,213,219,210],
  [202,209,197,205,213,200,207,215,202,196,208,214,201,208,197,204,212,199,206,214,201,195,207,213,200,207,196,204,211,198,206,213,200,195,207,213,200,207,196,204,212,199,206,214,201,196,207,213,200,207,197,205,203],
  [218,226,213,220,209,217,225,212,219,227,214,208,220,226,212,219,208,216,224,211,218,227,213,207,219,225,212,218,207,215,223,210,217,226,213,206,218,225,211,218,207,215,223,210,217,226,213,207,219,224,212,218,215],
  [196,203,210,199,206,194,202,209,197,204,211,199,194,204,210,198,205,212,199,193,203,209,197,204,211,199,194,204,210,198,205,212,200,194,203,209,197,204,211,199,194,204,210,198,205,212,200,194,203,209,197,204,200]
];

const female310Mean = [307,301,296,291,286,285.6,288.5,287.5,282,284.5,282.5,280,280,280,284,287.5,288.6,290.5,285.5,283.5,
  284.5,285.5,288.5,286,282,279.7,279.7,281,283,284.9,285.5,286.5,287.2,288.5,293,294.6,290,289,288,286.5,
  285.5,285.6,287,284,283,282.5,282,283.5,285,281,279.7,279.7,280];
const female310Runs = [
  [318,310,325,314,306,320,331,315,308,322,335,317,309,324,314,306,320,333,316,309,323,316,307,321,332,315,308,324,340,318,310,325,314,306,321,334,317,309,323,315,307,320,332,316,309,324,345,318,311,325,314,320,312],
  [305,312,170,160,175,190,205,220,235,250,266,282,298,310,318,305,313,301,160,152,166,180,195,210,226,242,258,274,290,304,314,302,310,318,306,155,148,162,177,192,208,224,240,256,272,288,302,313,305,312,300,158,150],
  [310,300,314,305,160,150,163,177,191,206,221,237,253,269,285,300,311,302,309,300,312,305,160,148,162,176,191,206,222,238,254,270,286,301,312,303,310,318,306,152,145,158,172,187,202,218,234,250,266,282,298,310,305],
  [165,150,145,155,148,142,150,158,152,145,138,125,118,115,122,135,148,160,155,168,182,196,210,225,240,255,270,286,300,312,305,150,142,155,163,158,170,183,197,211,225,240,255,270,285,300,312,306,160,150,145,152,148],
  [300,308,296,304,312,299,306,294,302,311,298,305,293,301,310,297,304,313,300,295,306,314,301,297,308,299,306,314,302,296,307,316,303,297,309,300,295,306,315,302,298,309,301,296,307,314,302,297,308,300,305,299,303],
  [308,316,303,311,298,306,150,145,158,171,185,200,215,231,247,263,279,295,308,316,304,311,300,307,315,303,311,298,306,314,302,155,147,160,173,187,202,217,233,249,265,281,297,310,302,160,150,140,130,120,112,104,100],
  [325,318,332,320,312,328,340,322,314,330,344,325,317,333,321,313,329,341,323,315,331,320,312,328,342,324,316,332,346,326,318,334,322,314,330,343,325,317,333,321,313,329,340,324,316,332,348,327,319,335,323,330,322],
  [240,255,270,285,300,312,303,310,298,185,175,188,202,217,232,248,264,280,295,308,316,304,312,300,308,190,180,194,209,224,240,256,272,288,303,313,305,311,299,307,180,172,186,201,216,232,248,264,280,296,309,302,310],
  [175,160,150,162,155,148,160,172,165,178,192,206,221,236,252,268,284,300,312,304,310,150,143,155,150,145,157,170,165,178,192,207,222,238,254,270,286,301,312,305,160,152,145,156,150,162,175,170,184,198,213,228,243],
  [295,302,290,298,306,294,300,289,297,305,293,299,288,296,304,292,298,287,295,303,291,297,286,294,302,290,296,285,293,301,289,295,284,292,300,288,294,283,291,299,287,293,282,290,298,286,292,281,289,297,285,291,288],
  [300,290,155,165,180,195,211,227,243,259,275,291,305,314,302,310,318,306,313,301,309,317,305,312,300,160,150,163,177,192,208,224,240,256,272,288,303,312,304,311,299,306,150,143,157,171,186,201,217,233,249,265,281],
  [312,322,306,318,328,313,305,319,331,315,307,321,333,317,309,323,312,305,319,330,315,307,321,333,316,309,323,313,306,320,331,316,308,322,335,318,310,325,314,306,320,331,316,309,323,312,305,319,330,315,308,322,314],
  [304,296,309,301,294,307,316,301,293,306,314,300,292,305,313,298,291,304,312,297,290,303,311,296,305,314,300,292,305,313,299,291,304,312,298,306,315,301,293,306,314,300,292,305,313,299,307,316,301,294,306,299,305],
  [316,304,312,300,308,315,303,160,150,163,177,192,207,223,239,255,271,287,302,313,305,312,300,308,316,303,311,299,307,314,302,310,317,305,155,147,161,175,190,205,221,237,253,269,285,300,311,303,310,298,306,314,302],
  [298,309,302,313,306,299,311,303,314,306,300,312,304,165,155,168,182,197,212,228,244,260,276,292,306,314,302,310,298,306,314,301,309,316,304,311,299,307,315,160,150,164,178,193,208,224,240,256,272,288,302,312,305],
  [190,170,158,150,145,156,150,144,155,166,160,152,146,156,168,162,155,148,158,170,164,157,150,160,172,166,180,194,208,222,236,250,264,278,292,305,312,155,148,158,152,145,156,168,162,155,148,158,170,164,158,166,160],
  [330,338,324,334,344,328,321,335,347,330,322,336,349,331,323,337,345,329,322,336,348,330,323,338,345,329,322,336,350,331,324,338,345,329,322,335,346,330,323,337,344,328,321,335,347,330,323,337,343,328,322,335,340],
  [320,312,326,316,308,323,334,318,310,325,337,319,311,327,316,308,323,335,318,310,326,316,308,322,334,318,310,326,338,320,312,327,316,308,323,335,319,311,327,316,309,324,336,320,312,328,317,309,324,335,318,326,316],
  [302,310,297,306,315,300,293,307,317,302,295,309,299,292,306,316,301,294,308,298,291,305,315,300,293,307,317,302,295,309,299,292,306,316,301,294,308,298,291,305,315,300,293,307,297,291,305,314,300,293,307,299,303],
  [328,320,334,324,316,331,342,325,317,333,322,314,330,341,324,316,332,321,313,329,340,323,315,331,343,326,318,334,323,315,331,342,325,317,333,322,314,330,340,324,316,332,321,313,329,340,323,315,331,341,325,333,326],
  [310,302,316,306,299,312,322,307,300,314,304,297,311,321,306,299,313,303,296,310,320,305,298,312,323,308,300,315,305,298,312,322,307,300,314,304,297,311,321,306,299,313,303,296,310,320,305,298,312,322,307,315,309]
];

// ---- panel layout: plot box [left, top, right, bottom] in page pixels ----
const panels = [
  { runs: survival50Runs,  mean: survival50Mean,  years: yearsLong, box: [53, 85, 529, 259],    xRange: [0.8, 114.1],  yRange: [-3.3, 105.8], xTicks: ticksLong,  yTicks: yTicks50,   xLabels: false },
  { runs: survival100Runs, mean: survival100Mean, years: years,     box: [573, 85, 1050, 260],  xRange: [1.19, 103.9], yRange: [-5.5, 154.6], xTicks: ticksShort, yTicks: yTicks100,  xLabels: false },
  { runs: survival210Runs, mean: survival210Mean, years: years,     box: [53, 304, 529, 480],   xRange: [1.33, 104.1], yRange: [-10.5, 267],  xTicks: ticksShort, yTicks: yTicks210,  xLabels: true },
  { runs: survival310Runs, mean: survival310Mean, years: years,     box: [573, 304, 1050, 480], xRange: [1.19, 103.9], yRange: [-14.4, 362.9], xTicks: ticksShort, yTicks: yTicks310a, xLabels: true },
  { runs: female50Runs,    mean: female50Mean,    years: yearsLong, box: [53, 641, 529, 816],   xRange: [0.8, 114.1],  yRange: [-3.8, 106.3], xTicks: ticksLong,  yTicks: yTicks50,   xLabels: false },
  { runs: female100Runs,   mean: female100Mean,   years: years,     box: [573, 641, 1050, 816], xRange: [1.19, 103.9], yRange: [-5.6, 155.8], xTicks: ticksShort, yTicks: yTicks100,  xLabels: false },
  { runs: female210Runs,   mean: female210Mean,   years: years,     box: [53, 855, 529, 1029],  xRange: [1.33, 104.1], yRange: [-10.3, 273.3], xTicks: ticksShort, yTicks: yTicks210,  xLabels: true },
  { runs: female310Runs,   mean: female310Mean,   years: years,     box: [573, 855, 1050, 1029], xRange: [1.19, 103.9], yRange: [-14.2, 377],  xTicks: ticksShort, yTicks: yTicks310b, xLabels: true }
];

const runColor = 'rgba(160,160,218,0.5)';
const axisColor = '#555';
const FONT = '"Liberation Sans", Arial, sans-serif';

// box around the plot region plus R-style tick labels (y labels read upwards)
const frame = {
  id: 'frame',
  afterDraw(chart, args, opts) {
    const { ctx, chartArea: a, scales: { x, y } } = chart;
    ctx.save();
    ctx.strokeStyle = axisColor;
    ctx.lineWidth = 1;
    ctx.strokeRect(a.left + 0.5, a.top + 0.5, a.right - a.left - 1, a.bottom - a.top - 1);
    ctx.fillStyle = '#222';
    ctx.textAlign = 'center';
    ctx.textBaseline = 'middle';
    ctx.font = '7.5px ' + FONT;
    y.ticks.forEach(t => {
      ctx.save();
      ctx.translate(a.left - 11.5, y.getPixelForValue(t.value));
      ctx.rotate(-Math.PI / 2);
      ctx.fillText(String(t.value), 0, 0);
      ctx.restore();
    });
    if (opts.xLabels) {
      ctx.font = '9.5px ' + FONT;
      x.ticks.forEach(t => ctx.fillText(String(t.value), x.getPixelForValue(t.value), a.bottom + 12.5));
    }
    ctx.restore();
  }
};

function drawPanel(p) {
  const [l, t, r, b] = p.box;
  const cv = document.createElement('canvas');
  cv.width = r - l + 55;
  cv.height = b - t + 40;
  cv.style.left = (l - 50) + 'px';
  cv.style.top = (t - 5) + 'px';
  document.body.appendChild(cv);

  const toPoints = vals => vals
    .map((v, i) => ({ x: p.years[i], y: v }))
    .filter(pt => pt.x !== undefined);

  const datasets = p.runs.map(run => ({
    data: toPoints(run), borderColor: runColor, borderWidth: 1.1
  }));
  datasets.push({ data: toPoints(p.mean), borderColor: '#111', borderWidth: 1.6 });

  const tickGrid = { drawOnChartArea: false, drawTicks: true, tickLength: 6, color: axisColor, lineWidth: 1 };

  new Chart(cv, {
    type: 'line',
    data: { datasets },
    options: {
      responsive: false,
      animation: false,
      devicePixelRatio: 1,
      layout: { padding: { left: 0, top: 5, right: 5, bottom: 0 } },
      elements: { point: { radius: 0 }, line: { tension: 0 } },
      plugins: { legend: { display: false }, tooltip: { enabled: false }, frame: { xLabels: p.xLabels } },
      scales: {
        x: {
          type: 'linear', min: p.xRange[0], max: p.xRange[1],
          afterBuildTicks: s => { s.ticks = p.xTicks.map(v => ({ value: v })); },
          afterFit: s => { s.height = 35; },
          ticks: { display: false },
          grid: tickGrid,
          border: { display: false }
        },
        y: {
          type: 'linear', min: p.yRange[0], max: p.yRange[1],
          afterBuildTicks: s => { s.ticks = p.yTicks.map(v => ({ value: v })); },
          afterFit: s => { s.width = 50; },
          ticks: { display: false },
          grid: tickGrid,
          border: { display: false }
        }
      }
    },
    plugins: [frame]
  });
}

panels.forEach(drawPanel);
</script>
</body>
</html>
